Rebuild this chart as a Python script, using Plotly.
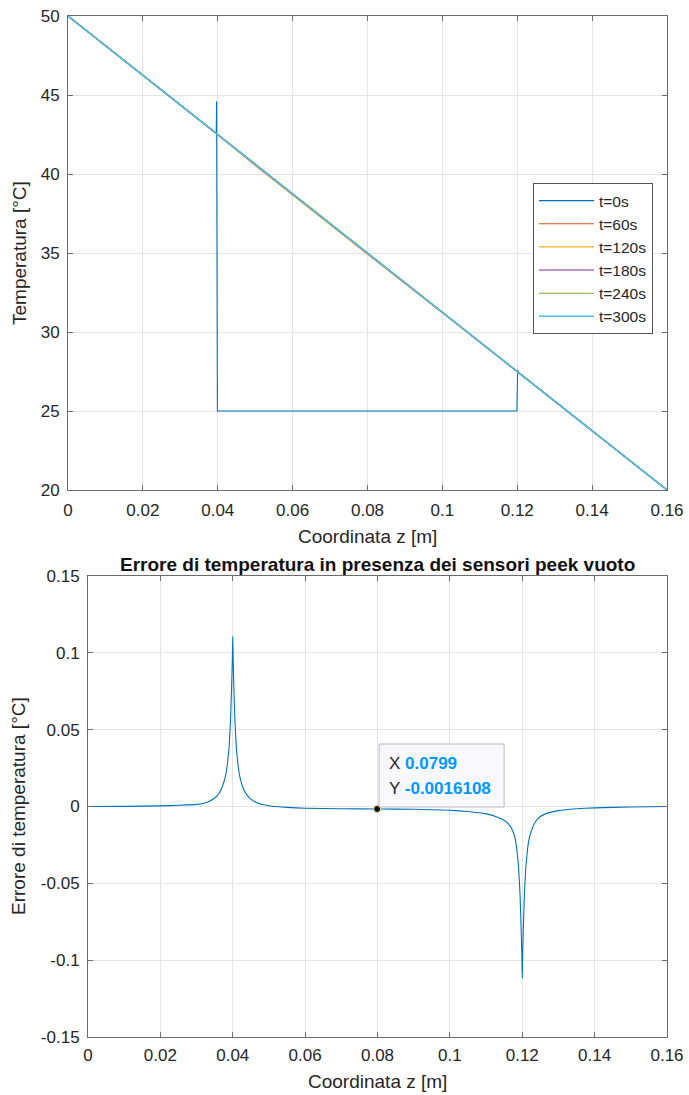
import plotly.graph_objects as go

# ---------------- data ----------------
# Top chart: temperature profiles along z for several times
z_t0 = [0.0, 0.0396, 0.0397, 0.0399, 0.1199, 0.1201, 0.1203, 0.16]
T_t0 = [50.0, 42.58, 44.6, 25.0, 25.0, 27.6, 27.45, 20.0]

z_lin = [0.0, 0.02, 0.04, 0.05, 0.06, 0.08, 0.10, 0.12, 0.14, 0.16]
T_t60 = [50.0, 46.25, 42.48, 40.55, 38.66, 34.93, 31.22, 27.50, 23.75, 20.0]
T_t120 = [50.0, 46.25, 42.49, 40.58, 38.69, 34.95, 31.23, 27.50, 23.75, 20.0]
T_t180 = [50.0, 46.25, 42.50, 40.60, 38.71, 34.97, 31.24, 27.50, 23.75, 20.0]
T_t240 = [50.0, 46.25, 42.50, 40.61, 38.72, 34.98, 31.24, 27.50, 23.75, 20.0]
T_t300 = [50.0, 46.25, 42.50, 40.62, 38.73, 34.98, 31.24, 27.50, 23.75, 20.0]

series_names = ["t=0s", "t=60s", "t=120s", "t=180s", "t=240s", "t=300s"]
series_colors = ["#0072BD", "#D95319", "#EDB120", "#7E2F8E", "#77AC30", "#4DBEEE"]

# Bottom chart: temperature error
z_err = [0.0, 0.01, 0.02, 0.025, 0.03, 0.033, 0.035, 0.036, 0.037, 0.038, 0.0385,
         0.039, 0.0394, 0.0397, 0.0399, 0.04, 0.0401, 0.0403, 0.0406, 0.041, 0.0415,
         0.042, 0.043, 0.044, 0.045, 0.047, 0.05, 0.055, 0.06, 0.07, 0.0799, 0.09,
         0.10, 0.105, 0.11, 0.113, 0.115, 0.116, 0.117, 0.118, 0.1185, 0.119, 0.1194,
         0.1197, 0.1199, 0.12, 0.1201, 0.1203, 0.1206, 0.121, 0.1215, 0.122, 0.123,
         0.124, 0.125, 0.127, 0.13, 0.135, 0.14, 0.15, 0.16]
e_err = [0.0, 0.0001, 0.0004, 0.0008, 0.0014, 0.0028, 0.0055, 0.0078, 0.0122, 0.0200,
         0.027, 0.039, 0.057, 0.079, 0.097, 0.1105, 0.097, 0.078, 0.056, 0.038, 0.026,
         0.0190, 0.0112, 0.0072, 0.0048, 0.0021, 0.0005, -0.0006, -0.0011, -0.0015,
         -0.0016108, -0.0018, -0.0024, -0.0033, -0.0048, -0.0068, -0.0090, -0.0110,
         -0.0140, -0.0205, -0.028, -0.040, -0.058, -0.080, -0.098, -0.1116, -0.098,
         -0.079, -0.057, -0.039, -0.027, -0.0200, -0.0128, -0.0088, -0.0065, -0.0043,
         -0.0027, -0.0015, -0.0009, -0.0003, 0.0]

tip_x = [0.0799]
tip_y = [-0.0016108]

x_tickvals = [0, 0.02, 0.04, 0.06, 0.08, 0.10, 0.12, 0.14, 0.16]
x_ticktext = ["0", "0.02", "0.04", "0.06", "0.08", "0.1", "0.12", "0.14", "0.16"]
y1_tickvals = [20, 25, 30, 35, 40, 45, 50]
y2_tickvals = [-0.15, -0.1, -0.05, 0, 0.05, 0.1, 0.15]
y2_ticktext = ["-0.15", "-0.1", "-0.05", "0", "0.05", "0.1", "0.15"]

# ---------------- figure ----------------
W, H = 689, 1095
FONT = "Liberation Sans, Arial, Helvetica, sans-serif"
TXT = "#262626"
AXC = "#6b6b6b"
GRID = "#e4e4e4"

fig = go.Figure()

top_y = [T_t0, T_t60, T_t120, T_t180, T_t240, T_t300]
top_x = [z_t0, z_lin, z_lin, z_lin, z_lin, z_lin]
widths = [1.1, 1.1, 1.1, 1.1, 1.1, 1.5]
for name, col, xs, ys, w in zip(series_names, series_colors, top_x, top_y, widths):
    fig.add_trace(go.Scatter(x=xs, y=ys, mode="lines", name=name,
                             line=dict(color=col, width=w),
                             xaxis="x", yaxis="y", showlegend=True))

fig.add_trace(go.Scatter(x=z_err, y=e_err, mode="lines", line=dict(color="#0072BD", width=1.1),
                         xaxis="x2", yaxis="y2", showlegend=False, line_shape="spline",
                         line_smoothing=0.3))

def ax_common():
    return dict(showline=True, linecolor=AXC, linewidth=1, mirror="ticks",
                ticks="inside", ticklen=5, tickcolor=AXC, tickwidth=1,
                showgrid=True, gridcolor=GRID, gridwidth=1, zeroline=False,
                tickfont=dict(family=FONT, size=17, color=TXT), automargin=False)

fig.update_layout(
    width=W, height=H,
    margin=dict(l=0, r=0, t=0, b=0),
    paper_bgcolor="white", plot_bgcolor="white",
    xaxis=dict(domain=[68 / W, 667 / W], range=[0, 0.16], anchor="y",
               tickvals=x_tickvals, ticktext=x_ticktext, ticklabelstandoff=5, **ax_common()),
    yaxis=dict(domain=[1 - 490 / H, 1 - 16 / H], range=[20, 50], anchor="x",
               tickvals=y1_tickvals, ticklabelstandoff=4, **ax_common()),
    xaxis2=dict(domain=[88 / W, 667 / W], range=[0, 0.16], anchor="y2",
                tickvals=x_tickvals, ticktext=x_ticktext, ticklabelstandoff=3, **ax_common()),
    yaxis2=dict(domain=[1 - 1037 / H, 1 - 576 / H], range=[-0.15, 0.15], anchor="x2",
                tickvals=y2_tickvals, ticktext=y2_ticktext, ticklabelstandoff=4, **ax_common()),
    legend=dict(x=653 / W, y=1 - 183 / H, xanchor="right", yanchor="top",
                bgcolor="white", bordercolor="#555555", borderwidth=1,
                font=dict(family=FONT, size=15.5, color=TXT), itemwidth=55,
                tracegroupgap=0),
    showlegend=True,
)

ann = []
ann.append(dict(text="Temperatura [°C]", x=20 / W, y=1 - 253 / H, xref="paper", yref="paper",
                showarrow=False, textangle=-90, font=dict(family=FONT, size=19, color=TXT),
                xanchor="center", yanchor="middle"))
ann.append(dict(text="Coordinata z [m]", x=(68 + 667) / 2 / W, y=1 - 536 / H, xref="paper", yref="paper",
                showarrow=False, font=dict(family=FONT, size=19, color=TXT),
                xanchor="center", yanchor="middle"))
ann.append(dict(text="Errore di temperatura [°C]", x=18 / W, y=1 - 806 / H, xref="paper", yref="paper",
                showarrow=False, textangle=-90, font=dict(family=FONT, size=19, color=TXT),
                xanchor="center", yanchor="middle"))
ann.append(dict(text="Coordinata z [m]", x=(88 + 667) / 2 / W, y=1 - 1081 / H, xref="paper", yref="paper",
                showarrow=False, font=dict(family=FONT, size=19, color=TXT),
                xanchor="center", yanchor="middle"))
ann.append(dict(text="<b>Errore di temperatura in presenza dei sensori peek vuoto</b>",
                x=(88 + 667) / 2 / W, y=1 - 564 / H, xref="paper", yref="paper",
                showarrow=False, font=dict(family=FONT, size=19, color="#111111"),
                xanchor="center", yanchor="middle"))

# data tip
VAL = "#0099FF"
ann.append(dict(text=f"X <b><span style='color:{VAL}'>{tip_x[0]:g}</span></b>",
                x=tip_x[0], y=tip_y[0], xref="x2", yref="y2", showarrow=False,
                xanchor="left", yanchor="middle", xshift=10, yshift=45,
                font=dict(family=FONT, size=17, color=TXT)))
ann.append(dict(text=f"Y <b><span style='color:{VAL}'>{tip_y[0]:.7f}</span></b>",
                x=tip_x[0], y=tip_y[0], xref="x2", yref="y2", showarrow=False,
                xanchor="left", yanchor="middle", xshift=10, yshift=20,
                font=dict(family=FONT, size=17, color=TXT)))
fig.update_layout(annotations=ann)

fig.add_shape(type="rect", xref="x2", yref="y2", xsizemode="pixel", ysizemode="pixel",
              xanchor=tip_x[0], yanchor=tip_y[0], x0=2, x1=127, y0=2, y1=65,
              fillcolor="#f8f8fd", line=dict(color="#b8b8c0", width=1), layer="above")

# data tip marker drawn after the box so it sits on top
fig.add_trace(go.Scatter(x=tip_x, y=tip_y, mode="markers",
                         marker=dict(color="#111111", size=7, line=dict(color="#e8e0a0", width=1)),
                         xaxis="x2", yaxis="y2", showlegend=False))
fig.write_html("out.html")
